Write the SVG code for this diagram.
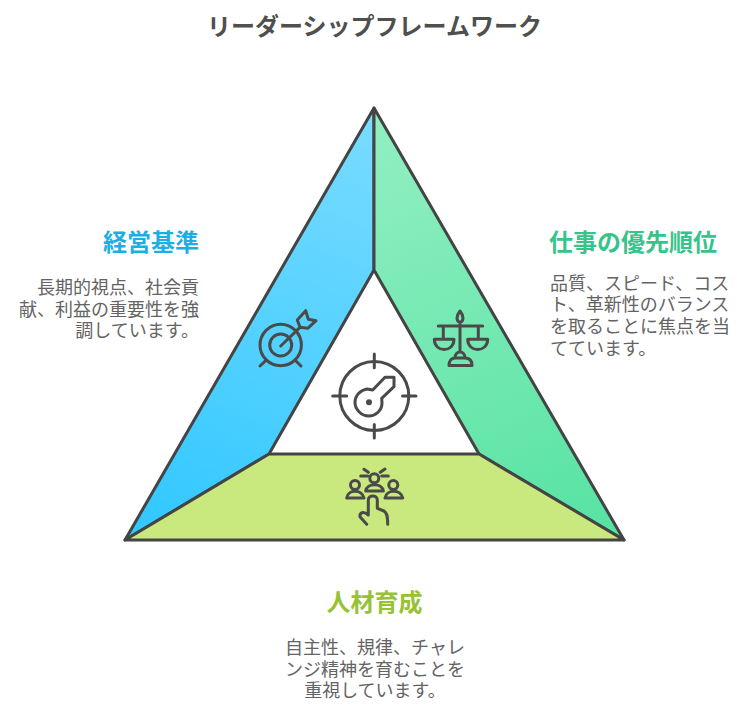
<svg xmlns="http://www.w3.org/2000/svg" width="749" height="721" viewBox="0 0 749 721">
<style>
text{font-family:"Noto Sans CJK JP","Noto Sans",sans-serif}
.h{font-size:24px;font-weight:700}
.b{font-size:18px;font-weight:400;fill:#636363}
.shape{stroke:#444;stroke-width:3;stroke-linejoin:round}
.i{fill:none;stroke:#4a4a4a;stroke-width:3;stroke-linecap:round;stroke-linejoin:round}
</style>
<defs>
<linearGradient id="gb" gradientUnits="userSpaceOnUse" x1="374" y1="108" x2="200" y2="540"><stop offset="0" stop-color="#7adcff"/><stop offset="1" stop-color="#33c8ff"/></linearGradient>
<linearGradient id="gg" gradientUnits="userSpaceOnUse" x1="374" y1="108" x2="560" y2="540"><stop offset="0" stop-color="#93efc2"/><stop offset="1" stop-color="#58e3a4"/></linearGradient>
</defs>
<rect width="749" height="721" fill="#fff"/>
<text x="374.500" y="35" text-anchor="middle" font-size="24" font-weight="700" fill="#4f4f4f">リーダーシップフレームワーク</text>
<g id="node-blue"><path class="shape" fill="url(#gb)" d="M374 108V270L269 454L125 540Z"/>
<g class="i"><circle cx="280.700" cy="345" r="20.700"/><circle cx="280.700" cy="345" r="11"/><path d="M280.700 346L300 327.300M260 366L265.700 360.700M301 366L295.700 360.700M300 327.300L297.300 320L305.700 310.700L308.300 319.300L316 320.700L307.700 328.300Z"/></g></g>
<g id="node-green"><path class="shape" fill="url(#gg)" d="M374 108V270L479 454L624 540Z"/>
<g class="i"><path d="M460 322.700V351.700M438.300 326H482.700M443.300 326V339M478.300 326V339M434.300 339.300H454C454 353 434.300 353 434.300 339.300ZM467.700 339.300H487.700C487.700 353 467.700 353 467.700 339.300ZM460 311C464 316 464 321 460 322.700C456 321 456 316 460 311ZM455 358C455 350 465 350 465 358M449 365.500C449 360 452 358 455 358H465C469 358 472 360 472 365.500Z"/></g></g>
<g id="node-lime"><path class="shape" fill="#c9e97e" d="M269 454H479L624 540H125Z"/>
<g class="i"><circle cx="374.300" cy="478.300" r="4.500"/><circle cx="355" cy="485" r="4.500"/><circle cx="393.300" cy="485" r="4.500"/><path d="M346.700 498C348 489 362 489 364 498ZM385 498C386.500 489 401 489 402.700 498ZM365.700 491C367 482.500 382 482.500 383.300 491ZM360.700 476H367.700M381.700 476H388.300M364 469.300L368.300 472.300M385 469L380.300 472.300M366.700 524.300L360 516.700C359.500 513 363 510.500 368.300 515V500C368.300 494.500 377.300 494.500 377.300 500V508.300L384 511C386.500 512.500 387.700 515 387.700 524.300"/></g></g>
<g id="node-center"><g class="i"><circle cx="374.300" cy="396" r="34.500"/><path d="M374.300 354V367.700M374.300 424.500V438M332.700 396H346.700M402.500 396H416M372.700 390L385 377.300H394V386.700L381.700 398.300L382 403C382 411 375 416 369 416C361 416 355 409 355 402.500C355 395 361 390 367 389Z"/><circle cx="369" cy="402.300" r="1.500"/></g></g>
<g id="connectors"/>
<g id="label-left"><text class="h" x="199" y="251" text-anchor="end" fill="#1dafe3">経営基準</text>
<text class="b" text-anchor="end" x="199" y="294">長期的視点、社会貢</text><text class="b" text-anchor="end" x="199" y="315.500">献、利益の重要性を強</text><text class="b" text-anchor="end" x="199" y="337">調しています。</text></g>
<g id="label-right"><text class="h" x="549" y="251" fill="#35c48a">仕事の優先順位</text>
<text class="b" x="550" y="289.500">品質、スピード、コス</text><text class="b" x="550" y="311">ト、革新性のバランス</text><text class="b" x="550" y="333">を取ることに焦点を当</text><text class="b" x="550" y="354.500">てています。</text></g>
<g id="label-bottom"><text class="h" x="374.500" y="611" text-anchor="middle" fill="#97c232">人材育成</text>
<text class="b" x="375" y="654" text-anchor="middle">自主性、規律、チャレ</text><text class="b" x="375" y="675.500" text-anchor="middle">ンジ精神を育むことを</text><text class="b" x="375" y="697" text-anchor="middle">重視しています。</text></g>
</svg>
